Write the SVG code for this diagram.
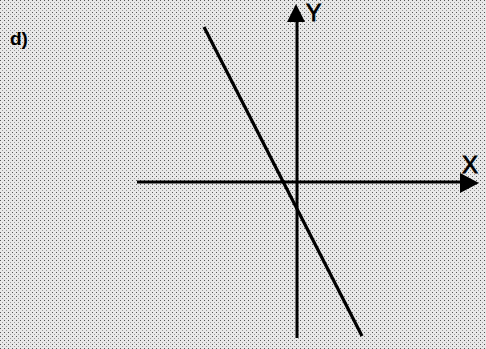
<svg xmlns="http://www.w3.org/2000/svg" width="486" height="349" viewBox="0 0 486 349">
<defs>
<pattern id="stip" width="4" height="4" patternUnits="userSpaceOnUse">
<rect width="4" height="4" fill="#e8e8e8"/>
<rect x="0" y="0" width="1" height="1" fill="#555"/>
<rect x="2" y="2" width="1" height="1" fill="#999"/>
</pattern>
<style>
.ax{stroke:#000;stroke-width:3;fill:none}
.ln{stroke:#000;stroke-width:3.2;fill:none}
.lbl{font-family:"Liberation Sans",Arial,sans-serif;font-weight:bold;fill:#000}
.axl{font-family:"Liberation Sans",Arial,sans-serif;fill:#000;stroke:#000;stroke-width:0.8}
</style>
</defs>
<rect width="486" height="349" fill="url(#stip)"/>
<g id="axes">
<line class="ax" x1="137" y1="182" x2="462" y2="182"/>
<polygon points="479,183 460,173 460,193" fill="#000"/>
<line class="ax" x1="297" y1="20" x2="297" y2="338"/>
<polygon points="296,4 287,22 305,22" fill="#000"/>
</g>
<g id="graph-line">
<line class="ln" x1="204" y1="27" x2="362" y2="336"/>
</g>
<text class="lbl" x="10" y="45" font-size="19">d)</text>
<text class="axl" x="306" y="21" font-size="23">Y</text>
<text class="axl" x="462" y="173" font-size="24">X</text>
</svg>
